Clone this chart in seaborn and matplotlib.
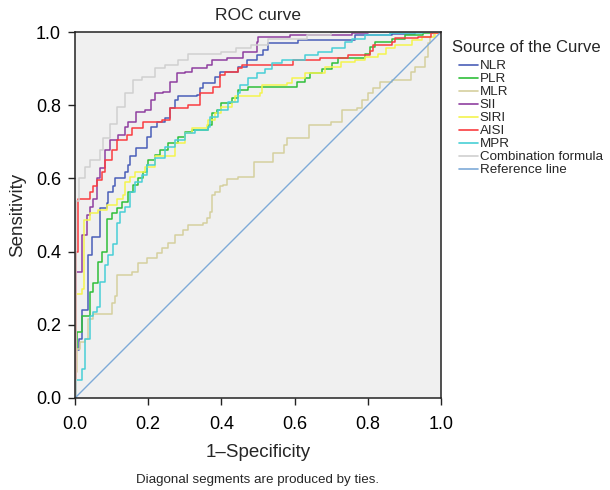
import matplotlib
matplotlib.use("Agg")
import matplotlib.pyplot as plt
import seaborn as sns
import pandas as pd

# ---- data ----
names = ["NLR", "PLR", "MLR", "SII", "SIRI", "AISI", "MPR", "Combination formula"]
colors = ["#4a5fb8", "#2fbf3a", "#d5d09e", "#8f3fa0", "#f4f44e", "#fa3c40", "#48cfd6", "#d0d0d0"]
ref_color = "#7eaad8"

nlr_x = [0, .003, .012, .02, .036, .046, .068, .087, .091, .105, .109, .137, .146, .15, .168, .196, .209, .223, .246, .26, .273, .282, .332, .342, .351, .383, .396, .446, .469, .496, .514, .528, .61, .765, .865, .93, 1.0]
nlr_y = [0, .13, .16, .24, .39, .44, .518, .532, .564, .578, .60, .618, .637, .66, .682, .714, .741, .755, .764, .792, .814, .824, .828, .846, .86, .878, .892, .905, .924, .937, .951, .969, .978, .992, .994, 1.0, 1.0]

plr_x = [0, .003, .005, .02, .04, .05, .064, .073, .087, .10, .114, .128, .146, .159, .173, .187, .196, .20, .219, .232, .255, .282, .30, .319, .364, .373, .387, .40, .428, .446, .474, .606, .628, .642, .674, .701, .719, .792, .806, .82, .865, .902, .95, .98, 1.0]
plr_y = [0, .134, .18, .223, .29, .313, .372, .40, .49, .505, .518, .536, .564, .582, .60, .618, .637, .651, .664, .678, .696, .714, .728, .733, .746, .778, .787, .805, .819, .842, .851, .864, .873, .887, .90, .914, .928, .941, .96, .973, .982, .991, .997, 1.0, 1.0]

mlr_x = [0, .003, .005, .013, .027, .036, .05, .10, .11, .114, .155, .173, .196, .223, .237, .255, .273, .296, .31, .351, .36, .369, .373, .383, .396, .405, .416, .444, .49, .54, .57, .58, .64, .70, .73, .77, .783, .801, .815, .833, .865, .919, .928, .956, .965, .97, .98, 1.0]
mlr_y = [0, .07, .134, .153, .16, .215, .23, .26, .278, .336, .345, .368, .382, .395, .409, .423, .445, .459, .473, .477, .491, .509, .555, .564, .578, .582, .597, .605, .646, .67, .69, .71, .746, .755, .787, .791, .814, .832, .846, .864, .869, .891, .905, .932, .969, .987, 1.0, 1.0]

sii_x = [0, .003, .018, .032, .041, .05, .059, .068, .082, .096, .118, .137, .146, .168, .191, .209, .219, .241, .26, .278, .30, .319, .36, .373, .416, .46, .496, .501, .587, .756, .80, 1.0]
sii_y = [0, .345, .445, .50, .523, .545, .60, .628, .678, .705, .719, .741, .755, .782, .787, .814, .832, .837, .864, .887, .892, .901, .91, .924, .93, .945, .973, .987, .991, .996, 1.0, 1.0]

siri_x = [0, .003, .02, .025, .041, .064, .087, .114, .132, .137, .15, .164, .191, .219, .273, .30, .319, .36, .364, .383, .40, .428, .437, .505, .51, .578, .592, .628, .683, .728, .765, .792, .828, .851, .874, .92, .947, .984, 1.0]
siri_y = [0, .283, .297, .486, .505, .514, .527, .545, .554, .591, .605, .618, .632, .66, .696, .723, .737, .746, .76, .778, .796, .81, .824, .833, .855, .86, .873, .887, .905, .918, .923, .932, .941, .955, .964, .978, .987, .996, 1.0]

aisi_x = [0, .003, .009, .041, .05, .059, .073, .082, .10, .114, .141, .155, .187, .237, .26, .31, .342, .378, .396, .41, .446, .455, .596, .669, .746, .806, .815, .865, .874, .938, .974, 1.0]
aisi_y = [0, .40, .545, .564, .578, .596, .618, .651, .678, .705, .719, .737, .755, .76, .792, .80, .832, .85, .882, .892, .901, .91, .924, .929, .938, .947, .965, .974, .983, .987, .996, 1.0]

mpr_x = [0, .003, .02, .027, .04, .05, .06, .068, .082, .091, .105, .114, .123, .137, .15, .164, .182, .196, .219, .246, .273, .30, .328, .364, .369, .392, .419, .446, .451, .474, .496, .519, .537, .565, .628, .665, .701, .737, .756, .792, .86, .95, 1.0]
mpr_y = [0, .05, .08, .16, .223, .234, .25, .316, .364, .39, .422, .477, .509, .523, .564, .591, .609, .637, .655, .687, .705, .723, .733, .741, .769, .787, .81, .832, .855, .873, .887, .90, .914, .923, .937, .946, .955, .973, .982, .991, .997, 1.0, 1.0]

comb_x = [0, .003, .01, .027, .041, .068, .077, .095, .114, .137, .159, .182, .219, .246, .282, .31, .40, .44, .48, .528, .633, .70, 1.0]
comb_y = [0, .537, .60, .63, .65, .678, .71, .75, .796, .832, .869, .878, .901, .91, .924, .94, .945, .955, .965, .98, .992, 1.0, 1.0]

ref_x = [0, 1]
ref_y = [0, 1]

ticks = [0.0, 0.2, 0.4, 0.6, 0.8, 1.0]
tick_labels = ["0.0", "0.2", "0.4", "0.6", "0.8", "1.0"]

curves_x = [nlr_x, plr_x, mlr_x, sii_x, siri_x, aisi_x, mpr_x, comb_x]
curves_y = [nlr_y, plr_y, mlr_y, sii_y, siri_y, aisi_y, mpr_y, comb_y]

# ---- plot ----
sns.set_theme(style="ticks")
plt.rcParams["font.family"] = ["Liberation Sans", "DejaVu Sans"]

W, H = 610, 490
fig = plt.figure(figsize=(6.1, 4.9), dpi=100)
ax = fig.add_axes([75 / W, 1 - 398 / H, 366 / W, 366 / H])
ax.set_facecolor("#f0f0f0")

for name, col, xs, ys in zip(names, colors, curves_x, curves_y):
    df = pd.DataFrame({"fpr": xs, "tpr": ys})
    sns.lineplot(data=df, x="fpr", y="tpr", ax=ax, color=col, linewidth=1.1,
                 estimator=None, sort=False, drawstyle="steps-post", label=name)

df_ref = pd.DataFrame({"fpr": ref_x, "tpr": ref_y})
sns.lineplot(data=df_ref, x="fpr", y="tpr", ax=ax, color=ref_color, linewidth=1.0,
             estimator=None, sort=False, label="Reference line")

ax.set_xlim(0, 1)
ax.set_ylim(0, 1)
ax.set_xticks(ticks)
ax.set_xticklabels(tick_labels)
ax.set_yticks(ticks)
ax.set_yticklabels(tick_labels)
ax.tick_params(axis="both", labelsize=13, length=5, width=1, color="#222222",
               labelcolor="black", direction="out", pad=5)
ax.tick_params(axis="x", pad=8)
for s in ax.spines.values():
    s.set_visible(True)
    s.set_color("#222222")
    s.set_linewidth(1.1)

ax.set_xlabel("1\u2013Specificity", fontsize=13.5, labelpad=8)
ax.set_ylabel("Sensitivity", fontsize=13.5, labelpad=7)
ax.set_title("ROC curve", fontsize=12.5, pad=8.5)

leg = ax.legend(loc="upper left", bbox_to_anchor=(459 / W, 1 - 60 / H),
                bbox_transform=fig.transFigure, frameon=False, fontsize=9.6,
                handlelength=1.4, handletextpad=0.15, labelspacing=0.05,
                borderpad=0, borderaxespad=0)
for h in leg.get_lines():
    h.set_linewidth(1.2)

fig.text(452.5 / W, 1 - 52.5 / H, "Source of the Curve", ha="left", va="baseline", fontsize=12)

fig.text(258 / W, 1 - 483 / H, "Diagonal segments are produced by ties.",
         ha="center", va="baseline", fontsize=9.6)

fig.savefig("out.png", dpi=100)
